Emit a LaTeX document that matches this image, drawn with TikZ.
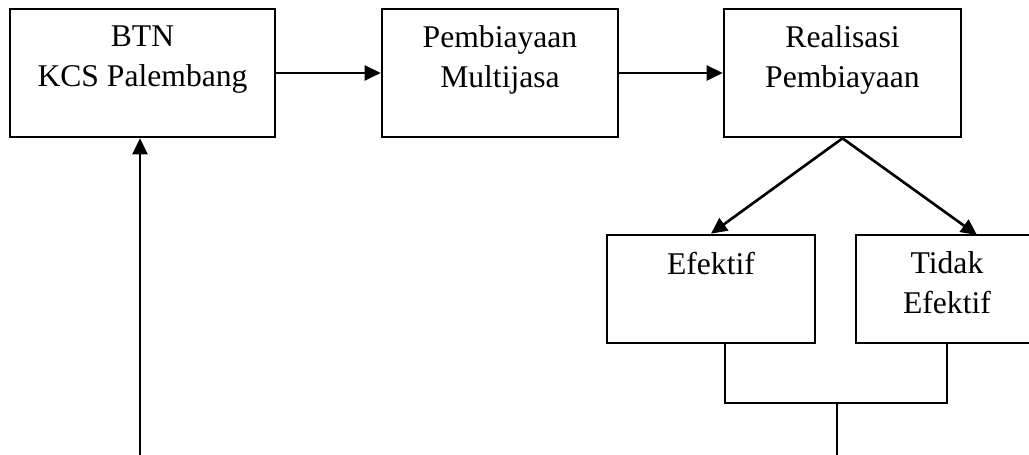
\documentclass[tikz,border=0pt]{standalone}
\usepackage{fontspec}
\setmainfont{Liberation Serif}
\usepackage{tikz}
\usetikzlibrary{positioning,calc,arrows.meta}

\tikzset{
  box/.style={draw,line width=1.5pt,inner sep=0pt},
  lbl/.style={align=center,anchor=north,inner sep=0pt,font=\fontsize{18}{22.5}\selectfont},
  arr/.style={line width=1.5pt,-{Triangle[length=0.32cm,width=0.3cm]}},
  wire/.style={line width=1.2pt}
}

\begin{document}
\begin{tikzpicture}[x=0.02cm,y=-0.02cm]
    \useasboundingbox (0,0) rectangle (1029,455);

    % top row
    \node[box,minimum width=265*0.02cm,minimum height=128*0.02cm] (btn) at (142.5,73) {};
    \node[lbl] (btnT) at ($(btn.north)+(0,18)$) {BTN\\KCS Palembang};
    \node[box,minimum width=236*0.02cm,minimum height=128*0.02cm] (pm) at (500,73) {};
    \node[lbl] (pmT) at ($(pm.north)+(0,18)$) {Pembiayaan\\Multijasa};
    \node[box,minimum width=237*0.02cm,minimum height=128*0.02cm] (rp) at (842.5,73) {};
    \node[lbl] (rpT) at ($(rp.north)+(0,18)$) {Realisasi\\Pembiayaan};

    % result boxes
    \node[box,minimum width=208*0.02cm,minimum height=108*0.02cm] (eff) at (711,289) {};
    \node[lbl] (effT) at ($(eff.north)+(0,18)$) {Efektif};
    \node[box,minimum width=182*0.02cm,minimum height=108*0.02cm] (tdk) at (947,289) {};
    \node[lbl] (tdkT) at ($(tdk.north)+(0,18)$) {Tidak\\Efektif};

    \draw[arr] (btn.east) -- (pm.west);
    \draw[arr] (pm.east) -- (rp.west);

    \coordinate (tdkIn) at (977,235);
    \draw[arr] (rp.south) -- (eff.north);
    \draw[arr] (rp.south) -- (tdkIn);

    % feedback back to BTN
    \coordinate (jl) at (725,403);
    \coordinate (jr) at (947,403);
    \coordinate (jm) at (837,403);
    \coordinate (jb) at (837,455);
    \draw[wire] (jl |- eff.south) -- (jl) -- (jr) -- (tdk.south);
    \draw[wire] (jm) -- (jb);

    \coordinate (feed) at (140,455);
    \draw[arr] (feed) -- (feed |- btn.south);
\end{tikzpicture}
\end{document}
